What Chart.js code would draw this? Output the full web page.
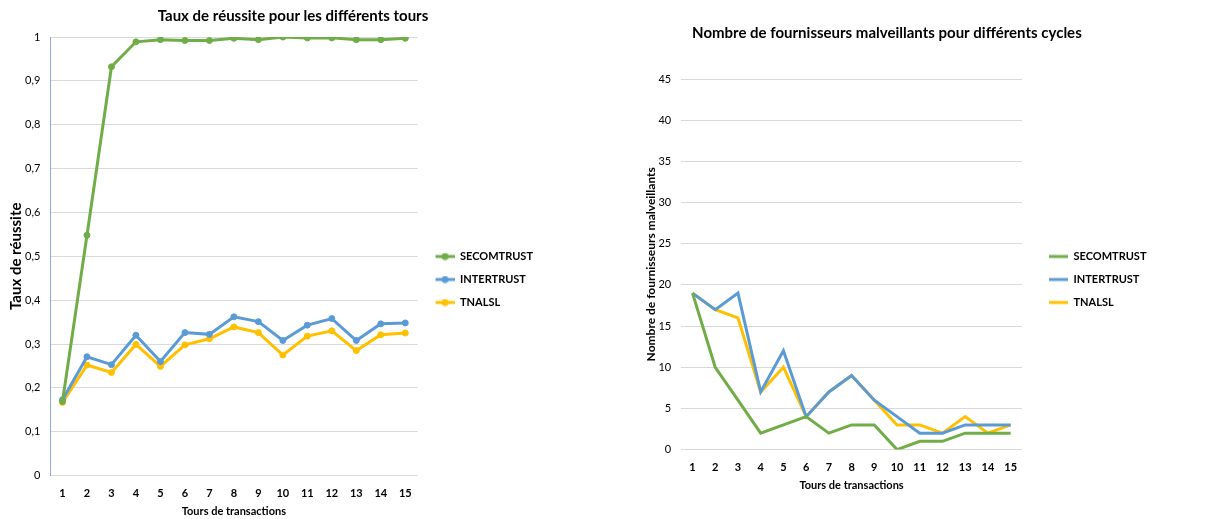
<!DOCTYPE html>
<html>
<head>
<meta charset="utf-8">
<script src="https://cdn.jsdelivr.net/npm/chart.js@4.4.1/dist/chart.umd.min.js"></script>
<style>
  body { margin: 0; background: #fff; }
  .box { position: absolute; top: 0; height: 519px; }
  #left { left: 0; width: 620px; }
  #right { left: 620px; width: 612px; }
</style>
</head>
<body>
<div class="box" id="left"><canvas id="tauxChart"></canvas></div>
<div class="box" id="right"><canvas id="malvChart"></canvas></div>
<script>
const tours = ['1', '2', '3', '4', '5', '6', '7', '8', '9', '10', '11', '12', '13', '14', '15'];

// taux de réussite par tour
const tauxSecomtrust = [0.169, 0.548, 0.932, 0.989, 0.994, 0.992, 0.992, 0.997, 0.994, 1.0, 0.998, 0.998, 0.994, 0.994, 0.997];
const tauxIntertrust = [0.173, 0.271, 0.253, 0.320, 0.260, 0.326, 0.322, 0.362, 0.351, 0.308, 0.343, 0.358, 0.308, 0.346, 0.348];
const tauxTnalsl = [0.167, 0.252, 0.235, 0.299, 0.249, 0.298, 0.312, 0.339, 0.326, 0.275, 0.318, 0.330, 0.285, 0.321, 0.325];

// nombre de fournisseurs malveillants par cycle
const malvSecomtrust = [19, 10, 6, 2, 3, 4, 2, 3, 3, 0, 1, 1, 2, 2, 2];
const malvIntertrust = [19, 17, 19, 7, 12, 4, 7, 9, 6, 4, 2, 2, 3, 3, 3];
const malvTnalsl = [19, 17, 16, 7, 10, 4, 7, 9, 6, 3, 3, 2, 4, 2, 3];

const GREEN = '#70AD47';
const BLUE = '#5B9BD5';
const YELLOW = '#FFC000';
const FONT = 'Lato, "Open Sans", sans-serif';

// legend swatch: a short line, with a dot in the middle if the series has markers
function makeSwatch(color, withDot, gap) {
  const c = document.createElement('canvas');
  c.width = 19 + gap;
  c.height = 8;
  const ctx = c.getContext('2d');
  ctx.strokeStyle = color;
  ctx.lineWidth = 3;
  ctx.beginPath();
  ctx.moveTo(gap, 4);
  ctx.lineTo(gap + 19, 4);
  ctx.stroke();
  if (withDot) {
    ctx.fillStyle = color;
    ctx.beginPath();
    ctx.arc(gap + 9.5, 4, 3.5, 0, Math.PI * 2);
    ctx.fill();
  }
  return c;
}

function legendOptions(withDot, gap, offsetTop) {
  return {
    position: 'right',
    align: 'start',
    title: { display: true, text: '', font: { size: 10 }, padding: { top: offsetTop, bottom: 0 } },
    labels: {
      usePointStyle: true,
      pointStyleWidth: 19 + gap,
      padding: 12,
      color: '#000',
      font: { family: FONT, size: 11, weight: 'bold' },
      generateLabels: function (chart) {
        const items = Chart.defaults.plugins.legend.labels.generateLabels(chart);
        items.forEach((it, i) => {
          it.pointStyle = makeSwatch(chart.data.datasets[i].borderColor, withDot, gap);
        });
        return items;
      }
    }
  };
}

function serie(label, data, color, points) {
  return {
    label: label,
    data: data,
    borderColor: color,
    backgroundColor: color,
    borderWidth: 3,
    pointRadius: points ? 3 : 0,
    pointBorderWidth: 1,
    pointHoverRadius: points ? 3 : 0,
    tension: 0
  };
}

function xScale() {
  return {
    offset: true,
    grid: { display: false },
    border: { display: false },
    ticks: { color: '#000', font: { family: FONT, size: 11, weight: 'bold' }, padding: 3 },
    title: { display: true, text: 'Tours de transactions', color: '#000', font: { family: FONT, size: 11, weight: 'bold' }, padding: { top: 2, bottom: 0 } }
  };
}

const NBSP = '\u00a0';

new Chart('tauxChart', {
  type: 'line',
  data: {
    labels: tours,
    datasets: [
      serie('SECOMTRUST', tauxSecomtrust, GREEN, true),
      serie('INTERTRUST', tauxIntertrust, BLUE, true),
      serie('TNALSL', tauxTnalsl, YELLOW, true)
    ]
  },
  options: {
    responsive: true,
    maintainAspectRatio: false,
    animation: false,
    layout: { padding: { left: 7, right: 77, top: 0, bottom: 1 } },
    plugins: {
      title: {
        display: true,
        text: NBSP.repeat(10) + 'Taux de réussite pour les différents tours',
        color: '#000',
        font: { family: FONT, size: 15, weight: 'bold' },
        padding: { top: 7, bottom: 12 }
      },
      legend: legendOptions(true, 6, 227),
      tooltip: { enabled: false }
    },
    scales: {
      x: xScale(),
      y: {
        min: 0,
        max: 1,
        ticks: {
          stepSize: 0.1,
          color: '#000',
          font: { family: FONT, size: 11 },
          padding: 10,
          callback: v => String(Number(v.toFixed(1))).replace('.', ',')
        },
        grid: { color: '#D9D9D9', drawTicks: false },
        border: { display: true, color: '#8FAADC', width: 1 },
        title: { display: true, text: 'Taux de réussite', color: '#000', font: { family: FONT, size: 15, weight: 'bold' }, padding: { top: 0, bottom: -10 } }
      }
    }
  }
});

new Chart('malvChart', {
  type: 'line',
  data: {
    labels: tours,
    datasets: [
      serie('SECOMTRUST', malvSecomtrust, GREEN, false),
      serie('INTERTRUST', malvIntertrust, BLUE, false),
      serie('TNALSL', malvTnalsl, YELLOW, false)
    ]
  },
  options: {
    responsive: true,
    maintainAspectRatio: false,
    animation: false,
    layout: { padding: { left: 24, right: 84, top: 0, bottom: 27 } },
    plugins: {
      title: {
        display: true,
        text: 'Nombre de fournisseurs malveillants pour différents cycles' + NBSP.repeat(5),
        color: '#000',
        font: { family: FONT, size: 15, weight: 'bold' },
        padding: { top: 24, bottom: 37 }
      },
      legend: legendOptions(false, 15, 227),
      tooltip: { enabled: false }
    },
    scales: {
      x: xScale(),
      y: {
        min: 0,
        max: 45,
        ticks: { stepSize: 5, color: '#000', font: { family: FONT, size: 11 }, padding: 10 },
        grid: { color: '#D9D9D9', drawTicks: false },
        border: { display: false },
        title: { display: true, text: 'Nombre de fournisseurs malveillants', color: '#000', font: { family: FONT, size: 12, weight: 'bold' }, padding: { top: 0, bottom: -10 } }
      }
    }
  }
});
</script>
</body>
</html>
